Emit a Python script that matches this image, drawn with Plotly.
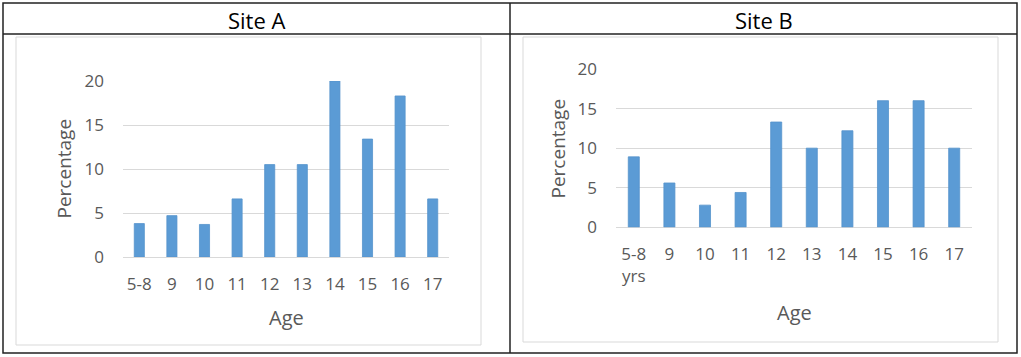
import plotly.graph_objects as go

W, H = 1021, 357

ages_a = ["5-8", "9", "10", "11", "12", "13", "14", "15", "16", "17"]
pct_a = [3.8, 4.7, 3.7, 6.6, 10.5, 10.5, 20.0, 13.4, 18.3, 6.6]

ages_b = ["5-8<br>yrs", "9", "10", "11", "12", "13", "14", "15", "16", "17"]
pct_b = [8.9, 5.6, 2.8, 4.4, 13.3, 10.0, 12.2, 16.0, 16.0, 10.0]

site_titles = ["Site A", "Site B"]
y_title = "Percentage"
x_title = "Age"
y_ticks = [0, 5, 10, 15, 20]

FONT = "Open Sans"
TXT = "#595959"
BAR = "#5B9BD5"
GRID = "#D9D9D9"

def px_x(x):
    return x / W

def px_y(y):
    return 1 - y / H

fig = go.Figure()
fig.add_trace(go.Bar(x=ages_a, y=pct_a, xaxis="x", yaxis="y",
                     marker=dict(color=BAR, line=dict(color="#5593CC", width=0.8)),
                     showlegend=False))
fig.add_trace(go.Bar(x=ages_b, y=pct_b, xaxis="x2", yaxis="y2",
                     marker=dict(color=BAR, line=dict(color="#5593CC", width=0.8)),
                     showlegend=False))

common_x = dict(showgrid=False, zeroline=False, showline=False, ticks="",
                tickfont=dict(family=FONT, size=17, color=TXT), fixedrange=True,
                ticklabelstandoff=15, automargin=False)
common_y = dict(range=[0, 20], tickvals=y_ticks, showgrid=True, gridcolor=GRID,
                gridwidth=1, zeroline=True, zerolinecolor=GRID, zerolinewidth=1,
                showline=False, ticks="", fixedrange=True, automargin=False,
                tickfont=dict(family=FONT, size=17, color=TXT), ticklabelstandoff=18)

fig.update_layout(
    width=W, height=H,
    margin=dict(l=0, r=0, t=0, b=0, pad=0, autoexpand=False),
    paper_bgcolor="white", plot_bgcolor="white",
    bargap=0.69,
    xaxis=dict(domain=[px_x(123), px_x(449)], anchor="y", **common_x),
    yaxis=dict(domain=[px_y(257), px_y(81)], anchor="x", **common_y),
    xaxis2=dict(domain=[px_x(616), px_x(972)], anchor="y2", **common_x),
    yaxis2=dict(domain=[px_y(227.3), px_y(69)], anchor="x2", **common_y),
)

shapes = []
# inner chart frames
shapes.append(dict(type="rect", xref="paper", yref="paper",
                   x0=px_x(16), x1=px_x(481), y0=px_y(345), y1=px_y(37),
                   line=dict(color="#D9D9D9", width=1)))
shapes.append(dict(type="rect", xref="paper", yref="paper",
                   x0=px_x(523), x1=px_x(998), y0=px_y(342), y1=px_y(37),
                   line=dict(color="#D9D9D9", width=1)))
# table lines
tl = dict(color="#222222", width=1.5)
shapes.append(dict(type="rect", xref="paper", yref="paper",
                   x0=px_x(3), x1=px_x(1017), y0=px_y(353), y1=px_y(3), line=tl))
shapes.append(dict(type="line", xref="paper", yref="paper",
                   x0=px_x(3), x1=px_x(1017), y0=px_y(34), y1=px_y(34), line=tl))
shapes.append(dict(type="line", xref="paper", yref="paper",
                   x0=px_x(510), x1=px_x(510), y0=px_y(353), y1=px_y(3), line=tl))
fig.update_layout(shapes=shapes)

ann = []
for txt, cx in zip(site_titles, [257, 763.5]):
    ann.append(dict(text=txt, x=px_x(cx), y=px_y(20), xref="paper", yref="paper",
                    showarrow=False, xanchor="center", yanchor="middle",
                    font=dict(family=FONT, size=22, color="black")))
for cx, cy in [(63.5, 169), (557, 148.5)]:
    ann.append(dict(text=y_title, x=px_x(cx), y=px_y(cy), xref="paper", yref="paper",
                    showarrow=False, textangle=-90, xanchor="center", yanchor="middle",
                    font=dict(family=FONT, size=19, color=TXT)))
for cx, cy in [(286, 317), (794, 312)]:
    ann.append(dict(text=x_title, x=px_x(cx), y=px_y(cy), xref="paper", yref="paper",
                    showarrow=False, xanchor="center", yanchor="middle",
                    font=dict(family=FONT, size=20, color=TXT)))
fig.update_layout(annotations=ann)

fig.write_html("out.html", config={"displayModeBar": False},
               post_script="document.body.style.margin='0';document.body.style.overflow='hidden';")
